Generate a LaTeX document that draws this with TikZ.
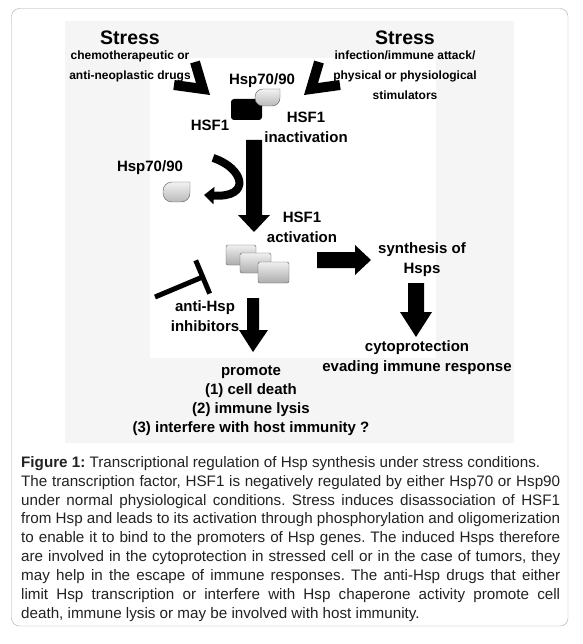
\documentclass[tikz,border=0pt]{standalone}
\usepackage{fontspec}
\setmainfont{Liberation Sans}
\usetikzlibrary{arrows.meta}
\definecolor{panelgray}{HTML}{F5F5F5}
\definecolor{framegray}{HTML}{A8A8A8}
\definecolor{captiontext}{HTML}{222222}

\begin{document}
\begin{tikzpicture}[x=1pt, y=-1pt,
    lbl/.style={font=\bfseries\fontsize{15}{20}\selectfont, align=center, inner sep=0pt},
    stresslbl/.style={font=\bfseries\fontsize{19.5}{22}\selectfont, inner sep=0pt},
    sublbl/.style={font=\bfseries\fontsize{12}{20}\selectfont, align=center, inner sep=0pt},
    hspdrop/.style={draw=gray!70!black, top color=gray!10, bottom color=gray!55},
    oligo/.style={draw=gray!70!black, top color=gray!12, bottom color=gray!65, rounded corners=2pt},
    chevron/.style={line width=10pt, line join=miter, black},
    blockarrow/.style={fill=black}]
    \useasboundingbox (0,0) rectangle (582,644);
    \fill[white] (0,0) rectangle (582,644);

    % Frame and panels
    \draw[framegray, rounded corners=8pt] (11.5,8.5) rectangle (568,626);
    \fill[panelgray] (65,21) rectangle (514,443);
    \fill[white] (150,58) rectangle (436,358);

    % Stress inputs
    \node[stresslbl] (stressL) at (130,38) {Stress};
    \node[sublbl] (drugs) at (130,66) {chemotherapeutic or\\anti-neoplastic drugs};
    \node[stresslbl] (stressR) at (405,38) {Stress};
    \node[sublbl] (stimuli) at (405,75) {infection/immune attack/\\physical or physiological\\stimulators};
    \draw[chevron] (195,62) -- (203,89) -- (174,85);
    \draw[chevron] (319,62) -- (311,89) -- (340,85);

    % Inactive HSF1 bound to Hsp70/90
    \node[lbl] (hspTop) at (262,81) {Hsp70/90};
    \node[fill=black, rounded corners=3pt, minimum width=31pt, minimum height=21pt, inner sep=0pt] (hsfInactive) at (246.5,109.5) {};
    \draw[hspdrop] (280,89) [rounded corners=8pt] -- (280,106) -- (255,106) -- (255,89) [sharp corners] -- cycle;
    \node[lbl] (hsfLbl) at (210,125) {HSF1};
    \node[lbl] (inactLbl) at (306,127) {HSF1\\inactivation};

    % Activation arrow
    \fill[blockarrow] (246,140) -- (262,140) -- (262,215) -- (270,215) -- (254,232) -- (238,215) -- (246,215) -- cycle;

    % Released Hsp70/90
    \node[lbl] (hspFree) at (150,168) {Hsp70/90};
    \draw[hspdrop] (190,182) [rounded corners=9pt] -- (190,202) -- (163,202) -- (163,182) [sharp corners] -- cycle;
    \draw[line width=8pt, -{Triangle[length=10pt, width=17pt]}] (213,158) .. controls (244,168) and (252,198) .. (204,195);

    % Active HSF1 oligomer
    \node[lbl] (actLbl) at (302,227) {HSF1\\activation};
    \draw[oligo] (226,245) rectangle (256,265);
    \draw[oligo] (240,253) rectangle (271,273);
    \draw[oligo] (258,262) rectangle (289,283);

    % Inhibitors
    \draw[line width=5pt, -{Bar[width=36pt]}] (155,297) -- (205,276);
    \node[lbl] (inhibLbl) at (205,316) {anti-Hsp\\inhibitors};

    % Promote
    \fill[blockarrow] (247,298) -- (259,298) -- (259,330) -- (268,330) -- (253,352) -- (239,330) -- (247,330) -- cycle;
    \node[lbl, font=\bfseries\fontsize{15}{19}\selectfont] (promoteLbl) at (251,401) {promote\\(1) cell death\\(2) immune lysis\\(3) interfere with host immunity ?};

    % Synthesis of Hsps
    \fill[blockarrow] (317,252) -- (355,252) -- (355,245) -- (371,260) -- (355,275) -- (355,268) -- (317,268) -- cycle;
    \node[lbl] (synthLbl) at (422,260) {synthesis of\\Hsps};
    \fill[blockarrow] (408,283) -- (424,283) -- (424,312) -- (432,312) -- (416,337) -- (400,312) -- (408,312) -- cycle;
    \node[lbl] (cytoLbl) at (417,358) {cytoprotection\\evading immune response};

    % Caption
    \node[anchor=north west, text width=539pt, align=justify, inner sep=0pt, text=captiontext,
          font=\fontsize{15.2}{18.9}\selectfont] (caption) at (21,456) {\tolerance=9999 \hyphenpenalty=10000 \frenchspacing
      \textbf{Figure 1:} Transcriptional regulation of Hsp synthesis under stress conditions.\\
      The transcription factor, HSF1 is negatively regulated by either Hsp70 or Hsp90\linebreak
      under normal physiological conditions. Stress induces disassociation of HSF1\linebreak
      from Hsp and leads to its activation through phosphorylation and oligomerization\linebreak
      to enable it to bind to the promoters of Hsp genes. The induced Hsps therefore\linebreak
      are involved in the cytoprotection in stressed cell or in the case of tumors, they\linebreak
      may help in the escape of immune responses. The anti-Hsp drugs that either\linebreak
      limit Hsp transcription or interfere with Hsp chaperone activity promote cell\linebreak
      death, immune lysis or may be involved with host immunity.};
\end{tikzpicture}
\end{document}
